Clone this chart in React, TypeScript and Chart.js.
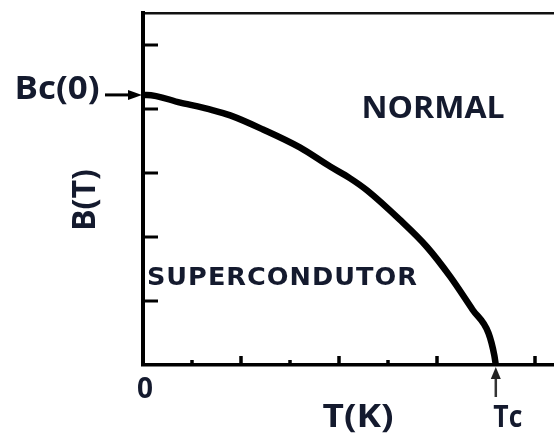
import React, { useEffect, useRef } from "react";
import { Chart, registerables } from "chart.js";

Chart.register(...registerables);

// Critical field curve B_c(T) (x in tick units, y in tick units)
const temperature = [0, 0.08, 0.76, 1.43, 1.78, 2.45, 3.2, 3.82, 4.22, 4.57, 5.24, 5.8, 6.27, 6.73, 7.05, 7.17, 7.2];
const criticalField = [4.22, 4.22, 4.1, 3.98, 3.9, 3.68, 3.4, 3.1, 2.92, 2.73, 2.27, 1.84, 1.38, 0.86, 0.5, 0.15, 0];

const xTickStep = 1;
const yTickStep = 1;
const xMax = 9;
const yMax = 5.5;
const Tc = 7.2;
const Bc0 = 4.22;

const labelNormal = "NORMAL";
const labelSuper = "SUPERCONDUTOR";
const labelBc0 = "Bc(0)";
const labelYAxis = "B(T)";
const labelXAxis = "T(K)";
const labelTc = "Tc";
const labelZero = "0";

const TEXT = "#141a2e";

function fitText(ctx: CanvasRenderingContext2D, text: string, font: string, cx: number, baseline: number, width: number, rotate = 0, spacing = "0px") {
  ctx.save();
  ctx.font = font;
  (ctx as any).letterSpacing = spacing;
  ctx.fillStyle = TEXT;
  ctx.textAlign = "center";
  ctx.textBaseline = "alphabetic";
  const w = ctx.measureText(text).width;
  ctx.translate(cx, baseline);
  if (rotate) ctx.rotate(rotate);
  ctx.scale(width / w, 1);
  ctx.fillText(text, 0, 0);
  ctx.restore();
}

const annotations = {
  id: "phaseAnnotations",
  afterDraw(chart: any) {
    const { ctx, chartArea } = chart;
    const xs = chart.scales.x;
    const ys = chart.scales.y;
    ctx.save();
    ctx.strokeStyle = "#000";
    ctx.lineCap = "butt";
    // inward ticks on y axis
    ctx.lineWidth = 3;
    ys.ticks.forEach((t: any) => {
      if (t.value <= 0 || t.value >= yMax) return;
      const py = ys.getPixelForValue(t.value);
      ctx.beginPath();
      ctx.moveTo(chartArea.left, py);
      ctx.lineTo(chartArea.left + 15, py);
      ctx.stroke();
    });
    // inward ticks on x axis
    ctx.lineWidth = 3.5;
    xs.ticks.forEach((t: any) => {
      if (t.value <= 0 || t.value >= xMax || t.value === 7) return;
      const px = xs.getPixelForValue(t.value);
      const len = t.value % 2 ? 5 : 9;
      ctx.beginPath();
      ctx.moveTo(px, chartArea.bottom);
      ctx.lineTo(px, chartArea.bottom - len);
      ctx.stroke();
    });
    // Bc(0) arrow
    const by = ys.getPixelForValue(Bc0);
    ctx.fillStyle = "#000";
    ctx.lineWidth = 3;
    ctx.beginPath();
    ctx.moveTo(chartArea.left - 38, by);
    ctx.lineTo(chartArea.left - 12, by);
    ctx.stroke();
    ctx.beginPath();
    ctx.moveTo(chartArea.left - 1, by);
    ctx.lineTo(chartArea.left - 15, by - 5);
    ctx.lineTo(chartArea.left - 15, by + 5);
    ctx.closePath();
    ctx.fill();
    // Tc arrow
    const tx = xs.getPixelForValue(Tc);
    ctx.lineWidth = 2.5;
    ctx.strokeStyle = "#333";
    ctx.fillStyle = "#222";
    ctx.beginPath();
    ctx.moveTo(tx, chartArea.bottom + 12);
    ctx.lineTo(tx, chartArea.bottom + 32);
    ctx.stroke();
    ctx.beginPath();
    ctx.moveTo(tx, chartArea.bottom + 2);
    ctx.lineTo(tx - 5, chartArea.bottom + 14);
    ctx.lineTo(tx + 5, chartArea.bottom + 14);
    ctx.closePath();
    ctx.fill();
    ctx.restore();

    // text
    const bold = (s: number, fam = "'Open Sans'") => `bold ${s}px ${fam}`;
    fitText(ctx, labelNormal, bold(30), xs.getPixelForValue(5.92), ys.getPixelForValue(3.86), 143);
    fitText(ctx, labelSuper, bold(25, "'DejaVu Sans'"), xs.getPixelForValue(0.08) + 271 / 2, ys.getPixelForValue(1.25), 271, 0, "1px");
    fitText(ctx, labelBc0, bold(32), chartArea.left - 86, by + 4, 85);
    fitText(ctx, labelYAxis, bold(33), chartArea.left - 48, 200, 62, -Math.PI / 2);
    fitText(ctx, labelZero, bold(28), xs.getPixelForValue(0) + 2, chartArea.bottom + 33, 16);
    fitText(ctx, labelXAxis, bold(32), xs.getPixelForValue(4.39), chartArea.bottom + 62, 71);
    fitText(ctx, labelTc, bold(30), tx + 12, chartArea.bottom + 62, 29);
  },
};

export default function App() {
  const ref = useRef<HTMLCanvasElement>(null);
  useEffect(() => {
    if (!ref.current) return;
    const chart = new Chart(ref.current, {
      type: "line",
      data: {
        datasets: [
          {
            data: temperature.map((t, i) => ({ x: t, y: criticalField[i] })),
            borderColor: "#000",
            borderWidth: 6.5,
            pointRadius: 0,
            cubicInterpolationMode: "monotone",
            fill: false,
            borderCapStyle: "round",
            borderJoinStyle: "round",
          },
        ],
      },
      plugins: [annotations],
      options: {
        responsive: false,
        animation: false,
        devicePixelRatio: 1,
        layout: { padding: { left: 0, top: 0, right: 16, bottom: 0 } },
        plugins: { legend: { display: false }, tooltip: { enabled: false } },
        scales: {
          x: {
            type: "linear",
            min: 0,
            max: xMax,
            ticks: { display: false, stepSize: xTickStep },
            grid: { display: false, drawTicks: false },
            border: { display: true, color: "#000", width: 3.5 },
            afterFit: (s: any) => { s.height = 71; },
          },
          x2: {
            type: "linear",
            position: "top",
            min: 0,
            max: xMax,
            ticks: { display: false },
            grid: { display: false, drawTicks: false },
            border: { display: true, color: "#111", width: 2.5 },
            afterFit: (s: any) => { s.height = 13; },
          },
          y: {
            type: "linear",
            min: 0,
            max: yMax,
            ticks: { display: false, stepSize: yTickStep },
            grid: { display: false, drawTicks: false },
            border: { display: true, color: "#000", width: 4 },
            afterFit: (s: any) => { s.width = 143; },
          },
        },
      },
    });
    return () => chart.destroy();
  }, []);
  return (
    <div style={{ position: "fixed", left: 0, top: 0, width: 554, height: 436, overflow: "hidden", background: "#fff" }}>
      <canvas ref={ref} width={600} height={436} style={{ width: 600, height: 436, display: "block" }} />
    </div>
  );
}
